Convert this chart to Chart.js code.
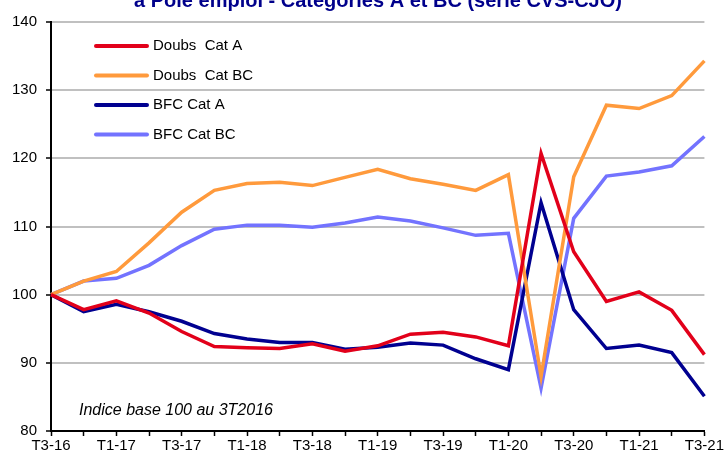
<!DOCTYPE html>
<html>
<head>
<meta charset="utf-8">
<script src="https://cdn.jsdelivr.net/npm/chart.js@4.4.0/dist/chart.umd.min.js"></script>
<style>
  html, body { margin: 0; padding: 0; background: #fff; }
  canvas { display: block; }
</style>
</head>
<body>
<canvas id="chart" width="725" height="456"></canvas>
<script>
// quarters T3-16 .. T3-21
const quarters = ['T3-16','T4-16','T1-17','T2-17','T3-17','T4-17','T1-18','T2-18','T3-18','T4-18',
  'T1-19','T2-19','T3-19','T4-19','T1-20','T2-20','T3-20','T4-20','T1-21','T2-21','T3-21'];

const doubsA  = [100, 97.8, 99.1, 97.3, 94.6, 92.4, 92.2, 92.1, 92.8, 91.7, 92.5, 94.2, 94.5, 93.8, 92.5, 120.7, 106.3, 99.0, 100.4, 97.7, 91.2];
const doubsBC = [100, 102.0, 103.4, 107.6, 112.1, 115.3, 116.3, 116.5, 116.0, 117.2, 118.4, 117.0, 116.2, 115.3, 117.6, 88.0, 117.3, 127.8, 127.3, 129.2, 134.3];
const bfcA    = [100, 97.5, 98.6, 97.5, 96.1, 94.3, 93.5, 93.0, 93.0, 92.0, 92.3, 92.9, 92.6, 90.6, 89.0, 113.5, 97.8, 92.1, 92.6, 91.5, 85.1];
const bfcBC   = [100, 102.0, 102.4, 104.3, 107.2, 109.6, 110.2, 110.2, 109.9, 110.5, 111.4, 110.8, 109.8, 108.7, 109.0, 86.3, 111.2, 117.4, 118.0, 118.9, 123.2];

const yTicks = [80, 90, 100, 110, 120, 130, 140];

const title = 'à Pôle emploi - Catégories A et BC (série CVS-CJO)';
const note = 'Indice base 100 au 3T2016';

const FONT = '"Liberation Sans", Arial, sans-serif';

const extras = {
  id: 'extras',
  afterDraw(chart) {
    const ctx = chart.ctx;
    ctx.save();
    // title (cut at top)
    ctx.fillStyle = '#00008b';
    ctx.font = 'bold 20px ' + FONT;
    ctx.textAlign = 'center';
    ctx.textBaseline = 'alphabetic';
    ctx.fillText(title, 378, 7);

    // legend
    ctx.font = '15px ' + FONT;
    ctx.textAlign = 'left';
    ctx.textBaseline = 'middle';
    chart.data.datasets.forEach((ds, i) => {
      const y = 46 + i * 29.5;
      ctx.strokeStyle = ds.borderColor;
      ctx.lineWidth = 4;
      ctx.lineCap = 'round';
      ctx.beginPath();
      ctx.moveTo(96, y);
      ctx.lineTo(147, y);
      ctx.stroke();
      ctx.fillStyle = '#000';
      ctx.fillText(ds.label, 153, y);
    });

    // note
    ctx.font = 'italic 16px ' + FONT;
    ctx.textBaseline = 'alphabetic';
    ctx.fillText(note, 79, 415);
    ctx.restore();
  }
};

new Chart(document.getElementById('chart'), {
  type: 'line',
  data: {
    labels: quarters,
    datasets: [
      { label: 'Doubs  Cat A',  data: doubsA,  borderColor: '#e2001a' },
      { label: 'Doubs  Cat BC', data: doubsBC, borderColor: '#ff9a3c' },
      { label: 'BFC Cat A',     data: bfcA,    borderColor: '#000090' },
      { label: 'BFC Cat BC',    data: bfcBC,   borderColor: '#7373ff' }
    ].map(d => Object.assign(d, { borderWidth: 3.5, pointRadius: 0, tension: 0, fill: false }))
  },
  options: {
    responsive: false,
    animation: false,
    layout: { padding: { top: 22, right: 20, left: 0, bottom: 0 } },
    plugins: { legend: { display: false }, tooltip: { enabled: false } },
    scales: {
      x: {
        offset: false,
        grid: { drawOnChartArea: false, drawTicks: true, tickLength: 5, tickColor: '#000', tickWidth: 1.5 },
        border: { color: '#000', width: 2 },
        ticks: {
          autoSkip: false, maxRotation: 0, padding: 1,
          color: '#000', font: { family: FONT, size: 15 },
          callback: (v, i) => (i % 2 === 0 ? quarters[i] : '')
        },
        afterFit: s => { s.height = 25; }
      },
      y: {
        min: 80, max: 140,
        afterBuildTicks: s => { s.ticks = yTicks.map(v => ({ value: v })); },
        grid: { color: '#c0c0c0', lineWidth: 2, drawTicks: true, tickLength: 5, tickColor: '#000', tickWidth: 1.5 },
        border: { color: '#000', width: 2 },
        ticks: { color: '#000', padding: 9, font: { family: FONT, size: 15 } },
        afterFit: s => { s.width = 51; }
      }
    }
  },
  plugins: [extras]
});
</script>
</body>
</html>
